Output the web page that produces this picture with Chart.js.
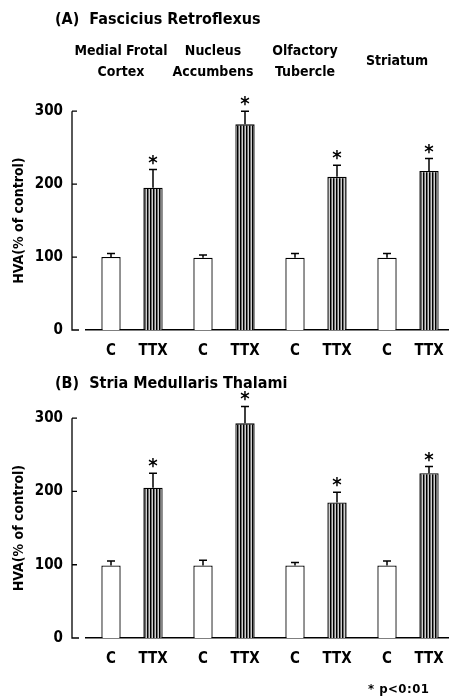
<!DOCTYPE html>
<html>
<head>
<meta charset="utf-8">
<script src="https://cdn.jsdelivr.net/npm/chart.js@4"></script>
<style>
  html, body { margin: 0; padding: 0; background: #fff; }
  #wrap { position: relative; width: 449px; height: 696px; overflow: hidden; }
  canvas { position: absolute; left: 0; }
  #chartA { top: 0; }
  #chartB { top: 360px; }
  #note { position: absolute; left: 368px; top: 681px; font: bold 13px 'Liberation Sans Narrow', 'DejaVu Sans Condensed', sans-serif; letter-spacing: 0.5px; }
</style>
</head>
<body>
<div id="wrap">
  <canvas id="chartA" width="460" height="360"></canvas>
  <canvas id="chartB" width="460" height="336"></canvas>
  <div id="note">* p&lt;0:01</div>
</div>
<script>
const regions = [["Medial Frotal", "Cortex"], ["Nucleus", "Accumbens"], ["Olfactory", "Tubercle"], "Striatum"];
const groups = ["C", "TTX"];
const yTicks = [0, 100, 200, 300];

// (A) Fasciculus retroflexus
const aControl = [100, 99, 99, 99];
const aControlErr = [5, 4, 6, 6];
const aTTX = [195, 282, 210, 218];
const aTTXErr = [25, 18, 16, 17];

// (B) Stria medullaris thalami
const bControl = [99, 99, 99, 99];
const bControlErr = [6, 7, 4, 6];
const bTTX = [205, 293, 185, 225];
const bTTXErr = [20, 23, 14, 9];

const FONT = "'Liberation Sans Narrow', 'DejaVu Sans Condensed', 'Arial Narrow', sans-serif";
Chart.defaults.font.family = FONT;
Chart.defaults.font.weight = "bold";
Chart.defaults.color = "#000";

const axisGap = 14;

function stripes(canvas) {
  const c = document.createElement("canvas");
  c.width = 3;
  c.height = 4;
  const g = c.getContext("2d");
  ["#000", "#6e6e6e", "#cfcfcf"].forEach((col, i) => {
    g.fillStyle = col;
    g.fillRect(i, 0, 1, 4);
  });
  return canvas.getContext("2d").createPattern(c, "repeat");
}

// y axis sits a little left of the bars: line, inward ticks and tick labels
const yAxisLine = {
  id: "yAxisLine",
  afterDraw(chart) {
    const { ctx, chartArea } = chart;
    const y = chart.scales.y;
    const x = chartArea.left - axisGap;
    ctx.save();
    ctx.strokeStyle = "#000";
    ctx.lineWidth = 1.3;
    ctx.beginPath();
    ctx.moveTo(x, y.getPixelForValue(y.max));
    ctx.lineTo(x, y.getPixelForValue(0));
    ctx.lineTo(x + 7, y.getPixelForValue(0));
    yTicks.forEach((v) => {
      const py = y.getPixelForValue(v);
      ctx.moveTo(x, py);
      ctx.lineTo(x + 5, py);
    });
    ctx.stroke();
    ctx.font = "bold 15px " + FONT;
    ctx.fillStyle = "#000";
    ctx.textAlign = "right";
    ctx.textBaseline = "middle";
    yTicks.forEach((v) => {
      ctx.fillText(String(v), x - 9, y.getPixelForValue(v));
    });
    ctx.restore();
  },
};

const errorBars = {
  id: "errorBars",
  afterDatasetsDraw(chart) {
    const { ctx } = chart;
    const y = chart.scales.y;
    ctx.save();
    ctx.strokeStyle = "#000";
    ctx.lineWidth = 1.5;
    chart.data.datasets.forEach((ds, i) => {
      chart.getDatasetMeta(i).data.forEach((bar, j) => {
        const top = y.getPixelForValue(ds.data[j] + ds.errors[j]);
        ctx.beginPath();
        ctx.moveTo(bar.x, bar.y);
        ctx.lineTo(bar.x, top);
        ctx.moveTo(bar.x - 4, top);
        ctx.lineTo(bar.x + 4, top);
        ctx.stroke();
        if (ds.star) {
          ctx.font = "bold 20px " + FONT;
          ctx.fillStyle = "#000";
          ctx.textAlign = "center";
          ctx.textBaseline = "alphabetic";
          ctx.fillText("*", bar.x, top - 1);
        }
      });
    });
    ctx.restore();
  },
};

const barLabels = {
  id: "barLabels",
  afterDraw(chart) {
    const { ctx, chartArea } = chart;
    ctx.save();
    ctx.font = "bold 15px " + FONT;
    ctx.fillStyle = "#000";
    ctx.textAlign = "center";
    ctx.textBaseline = "middle";
    chart.data.datasets.forEach((ds, i) => {
      chart.getDatasetMeta(i).data.forEach((bar) => {
        ctx.fillText(ds.label, bar.x, chartArea.bottom + 21);
      });
    });
    ctx.restore();
  },
};

function makePanel(id, title, ctrl, ctrlErr, ttx, ttxErr, opts) {
  const canvas = document.getElementById(id);
  const scales = {
    x: {
      grid: { display: false },
      border: { display: true, color: "#000", width: 1.5 },
      ticks: { display: false },
      afterFit: (s) => { s.height = opts.bottom; },
    },
    y: {
      min: 0,
      max: 300,
      ticks: { display: false },
      grid: { display: false, drawTicks: false },
      border: { display: false },
      title: {
        display: true,
        text: "HVA(% of control)",
        font: { size: 14, weight: "bold" },
        padding: { top: -44, bottom: 0 },
      },
      afterFit: (s) => { s.width = 31; },
    },
  };
  if (opts.showRegions) {
    scales.x2 = {
      type: "category",
      position: "top",
      labels: regions,
      offset: true,
      grid: { display: false, drawTicks: false },
      border: { display: false },
      ticks: {
        padding: 39,
        crossAlign: "center",
        labelOffset: -11,
        maxRotation: 0,
        autoSkip: false,
        font: { size: 14, weight: "bold", lineHeight: 1.5 },
      },
      afterFit: (s) => {
        s.height = opts.topAxis;
        s.paddingLeft = 0;
        s.paddingRight = 0;
      },
    };
  }
  return new Chart(canvas, {
    type: "bar",
    data: {
      labels: regions.map((r) => [].concat(r).join(" ")),
      datasets: [
        {
          label: groups[0],
          data: ctrl,
          errors: ctrlErr,
          backgroundColor: "#fff",
          borderColor: "#000",
          borderWidth: 1.3,
        },
        {
          label: groups[1],
          data: ttx,
          errors: ttxErr,
          star: true,
          backgroundColor: stripes(canvas),
          borderColor: "#000",
          borderWidth: 1.3,
        },
      ],
    },
    options: {
      responsive: false,
      animation: false,
      layout: { padding: { left: 55, right: 6, top: 0, bottom: 0 } },
      datasets: { bar: { categoryPercentage: 0.913, barPercentage: 0.46 } },
      plugins: {
        legend: { display: false },
        tooltip: { enabled: false },
        title: {
          display: true,
          text: title,
          align: "start",
          color: "#000",
          font: { size: 16, weight: "bold", lineHeight: 1.2 },
          padding: { top: opts.titleTop, bottom: opts.titleBottom },
        },
      },
      scales: scales,
    },
    plugins: [yAxisLine, errorBars, barLabels],
  });
}

makePanel("chartA", "(A)  Fascicius Retroflexus", aControl, aControlErr, aTTX, aTTXErr,
  { showRegions: true, topAxis: 82, titleTop: 10, titleBottom: 0, bottom: 30 });
makePanel("chartB", "(B)  Stria Medullaris Thalami", bControl, bControlErr, bTTX, bTTXErr,
  { showRegions: false, titleTop: 14, titleBottom: 25, bottom: 58 });
</script>
</body>
</html>
